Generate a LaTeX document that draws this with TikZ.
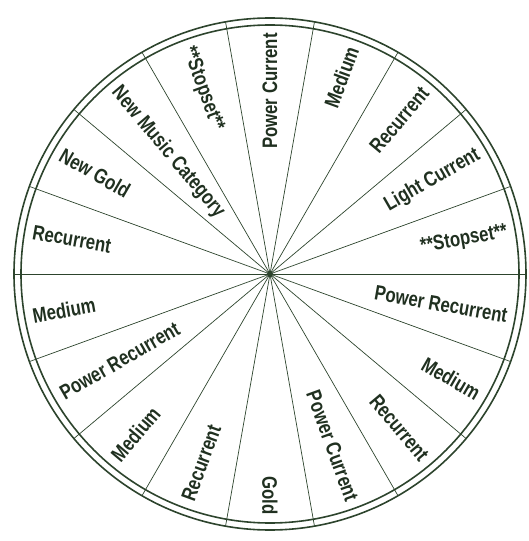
\documentclass[tikz,border=0pt]{standalone}
\usepackage{fontspec}
\setmainfont{Liberation Sans}[FakeStretch=0.8]
\definecolor{ink}{RGB}{32,48,32}
\definecolor{rim}{RGB}{45,68,45}
\tikzset{
  lbl/.style = {font=\bfseries\fontsize{21}{24}\selectfont, text=ink, inner sep=0pt},
  spoke/.style = {draw=rim, line width=0.7pt},
  ring/.style = {draw=rim, line width=1.6pt}
}
\begin{document}
\begin{tikzpicture}[x = 1pt, y = 1pt]
  \useasboundingbox (-270,-267) rectangle (259,274);
  \coordinate (hub) at (0,0);
  \foreach \i in {0, ..., 17}
    \draw [spoke] (hub) -- ++(\i*20:256);
  \draw [ring] (hub) circle (256);
  \draw [ring] (hub) circle (249);
  \fill [rim] (hub) circle (3);
  \foreach \lab [count = \i, evaluate = \i as \a using 110-20*\i,
                 evaluate = \i as \b using 290-20*\i] in
    {Power Current, Medium, Recurrent, Light Current, **Stopset**,
     Power Recurrent, Medium, Recurrent, Power Current, Gold,
     Recurrent, Medium, Power Recurrent, Medium, Recurrent,
     New Gold, New Music Category, **Stopset**} {
    \ifnum\i<11
      \node [lbl, rotate = \a, anchor = east] (lab\i) at (\a:241) {\lab};
    \else
      \node [lbl, rotate = \b, anchor = west] (lab\i) at (\a:241) {\lab};
    \fi
  }
\end{tikzpicture}
\end{document}
